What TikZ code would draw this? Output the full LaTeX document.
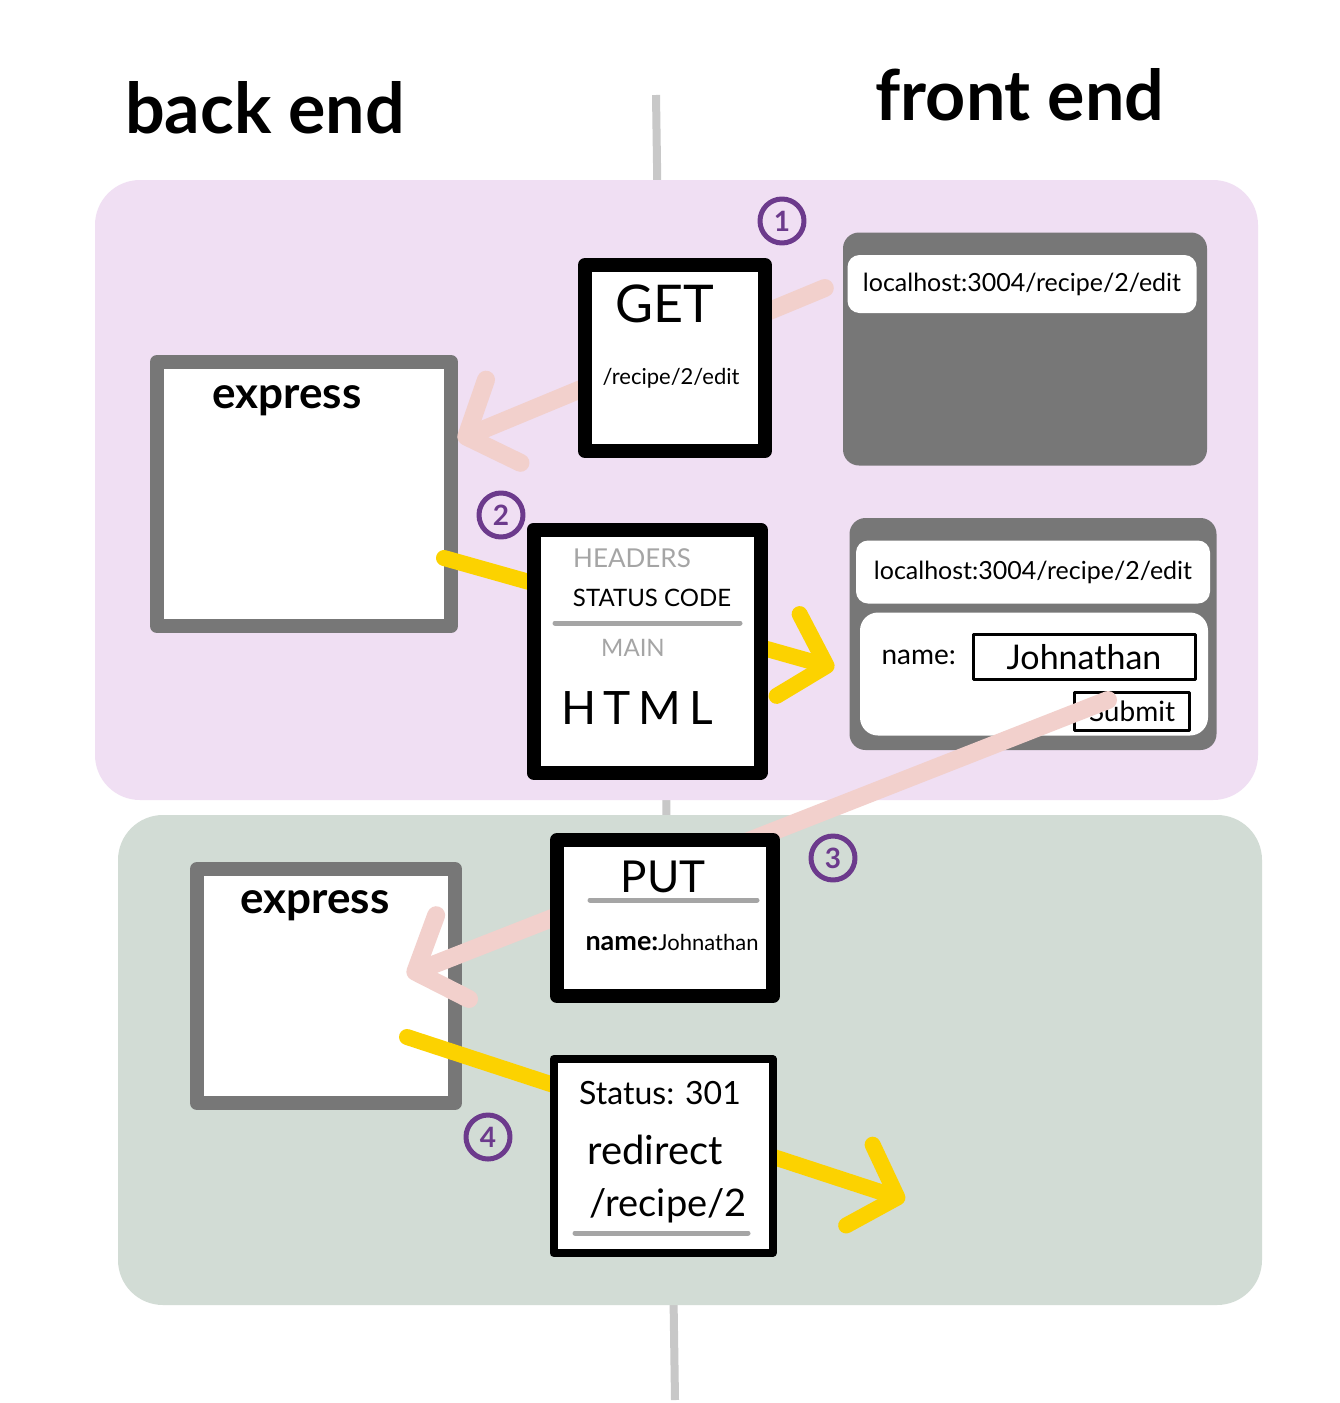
\documentclass[tikz,border=0pt]{standalone}
\usepackage{fontspec}
\setmainfont{Lato}
\usetikzlibrary{arrows.meta,positioning}
\definecolor{panelpurple}{RGB}{240,223,243}
\definecolor{panelgreen}{RGB}{210,220,213}
\definecolor{boxgray}{RGB}{119,119,119}
\definecolor{spinegray}{RGB}{200,200,200}
\definecolor{rulegray}{RGB}{165,165,165}
\definecolor{pinkline}{RGB}{242,208,204}
\definecolor{yellowline}{RGB}{252,210,0}
\definecolor{numpurple}{RGB}{108,58,140}
\newcommand{\fsz}[1]{\fontsize{#1}{#1}\selectfont}

\begin{document}
\begin{tikzpicture}[x=1pt, y=-1pt, line join=round,
    srvbox/.style={draw=boxgray, line width=14pt, fill=white, inner sep=0pt},
    msgbox/.style={draw=black, line width=14pt, fill=white, inner sep=0pt},
    winbox/.style={fill=boxgray, rounded corners=16pt, inner sep=0pt},
    barbox/.style={fill=white, rounded corners=12pt, inner sep=0pt},
    stepnum/.style={circle, draw=numpurple, line width=5pt, text=numpurple,
      minimum size=44pt, inner sep=0pt, font=\bfseries\fsz{28}},
    reqline/.style={draw=pinkline, line width=18pt, line cap=round,
      -{Straight Barb[round,length=40pt,width=90pt]}},
    resline/.style={draw=yellowline, line width=16pt, line cap=round,
      -{Straight Barb[round,length=40pt,width=85pt]}},
    rule/.style={draw=rulegray, line width=5pt, line cap=round}]
  \fill[white] (0,0) rectangle (1340,1403);
  \useasboundingbox (0,0) rectangle (1340,1403);
  % divider between the two sides
  \draw[spinegray, line width=8pt] (656,95) -- (675,1400);
  \node[font=\bfseries\fsz{70}] (backlbl) at (265,108) {back end};
  \node[font=\bfseries\fsz{70}] (frontlbl) at (1020,95) {front end};
  % the two rounds
  \fill[panelpurple, rounded corners=45pt] (95,180) rectangle (1258,800);
  \fill[panelgreen, rounded corners=45pt] (118,815) rectangle (1262,1305);

  % servers
  \node[srvbox, minimum width=294pt, minimum height=264pt] (exp1) at (304,494) {};
  \node[font=\bfseries\fsz{44}] at ([xshift=-17pt,yshift=-46pt]exp1.north) {express};
  \node[srvbox, minimum width=258pt, minimum height=234pt] (exp2) at (326,986) {};
  \node[font=\bfseries\fsz{44}] at ([xshift=-11pt,yshift=-44pt]exp2.north) {express};

  % browsers
  \node[winbox, minimum width=364pt, minimum height=233pt] (win1) at (1025,349) {};
  \node[barbox, minimum width=349pt, minimum height=58pt, font=\fsz{25}]
    (url1) at (1022,284) {localhost:3004/recipe/2/edit};
  \node[winbox, minimum width=367pt, minimum height=232pt] (win2) at (1033,634) {};
  \node[barbox, minimum width=354pt, minimum height=63pt, font=\fsz{25}]
    (url2) at (1033,572) {localhost:3004/recipe/2/edit};
  \node[barbox, rounded corners=18pt, minimum width=348pt, minimum height=123pt]
    (page2) at (1034,674) {};
  \node[draw, line width=3pt, minimum width=222pt, minimum height=45pt, font=\fsz{34}]
    (namefield) at (1084,657) {Johnathan};
  \node[font=\fsz{28}, left=12pt of namefield] (namelbl) {name:};
  \node[draw, line width=3pt, minimum width=115pt, minimum height=38pt, font=\fsz{28}]
    (submitbtn) at (1132,711) {Submit};

  % requests and responses
  \draw[reqline] ([xshift=-18pt,yshift=61pt]win1.west) -- ([yshift=54pt]exp1.east);
  \draw[resline] ([xshift=-14pt,yshift=-64pt]exp1.east) -- ([xshift=-15pt,yshift=-34pt]win2.west);
  \draw[reqline] ([xshift=-83pt,yshift=11pt]submitbtn.east) -- ([xshift=-55pt,yshift=11pt]exp2.east);
  \coordinate (landing) at (905,1200);
  \draw[resline] ([xshift=-55pt,yshift=-51pt]exp2.east) -- (landing);

  % messages
  \node[msgbox, minimum width=180pt, minimum height=186pt] (getmsg) at (675,358) {};
  \node[font=\fsz{52}] at ([xshift=-10pt,yshift=-46pt]getmsg.north) {GET};
  \node[font=\fsz{22}] at ([xshift=-4pt,yshift=-120pt]getmsg.north) {/recipe/2/edit};

  \node[msgbox, minimum width=227pt, minimum height=243pt] (htmlmsg) at (647,651) {};
  \node[font=\fsz{26}, text=rulegray] at (632,558) {HEADERS};
  \node[font=\fsz{24}] at (652,598) {STATUS CODE};
  \draw[rule] (555,623) -- (740,623);
  \node[font=\fsz{24}, text=rulegray] at (633,648) {MAIN};
  \node[font=\fsz{46}] at (637,708) {H\,T\,M\,L};

  \node[msgbox, minimum width=216pt, minimum height=156pt] (putmsg) at (665,918) {};
  \node[font=\fsz{44}] at (663,877) {PUT};
  \draw[rule] (590,900) -- (757,900);
  \node[font=\fsz{22}] at (672,942) {\textbf{\fsz{27}name:}Johnathan};

  \node[msgbox, line width=8pt, minimum width=219pt, minimum height=194pt] (redirmsg) at (663,1156) {};
  \node[font=\fsz{32}] at (660,1093) {Status: 301};
  \node[font=\fsz{40}] at (655,1150) {redirect};
  \node[font=\fsz{38}] at (668,1206) {/recipe/2};
  \draw[rule] (575,1233) -- (748,1233);

  % step numbers
  \node[stepnum] (num1) at (782,221) {1};
  \node[stepnum] (num2) at (501,515) {2};
  \node[stepnum] (num3) at (833,858) {3};
  \node[stepnum] (num4) at (488,1137) {4};
\end{tikzpicture}
\end{document}
